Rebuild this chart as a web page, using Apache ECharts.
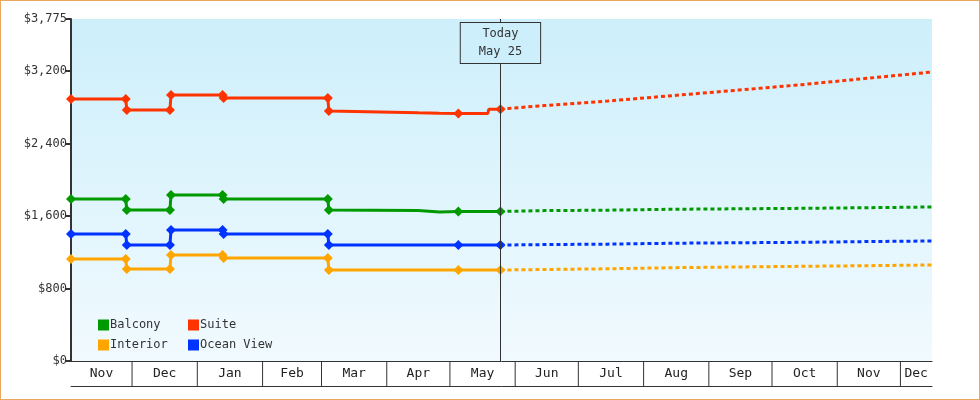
<!DOCTYPE html>
<html>
<head>
<meta charset="utf-8">
<script src="https://cdn.jsdelivr.net/npm/echarts@6/dist/echarts.min.js"></script>
<style>
html, body { margin: 0; padding: 0; background: #fff; }
#chart { width: 978px; height: 398px; border: 1px solid #e8a860; }
</style>
</head>
<body>
<div id="chart"></div>
<script>
// price history (pairs at a date = before / after a change)
var histDates = ['2024-11-02', '2024-11-28', '2024-11-28 12:00', '2024-12-19', '2024-12-19 12:00',
    '2025-01-13', '2025-01-13 12:00', '2025-03-04', '2025-03-04 12:00', '2025-04-16', '2025-04-26',
    '2025-05-05', '2025-05-19', '2025-05-19 12:00', '2025-05-25'];
var suiteHist = [2892, 2892, 2770, 2770, 2936, 2936, 2903, 2903, 2760, 2740, 2736, 2733, 2733, 2780, 2780];
var balconyHist = [1788, 1788, 1667, 1667, 1832, 1832, 1788, 1788, 1667, 1660, 1645, 1650, 1650, 1650, 1650];
var oceanHist = [1402, 1402, 1280, 1280, 1446, 1446, 1402, 1402, 1280, 1280, 1280, 1280, 1280, 1280, 1280];
var interiorHist = [1126, 1126, 1015, 1015, 1170, 1170, 1137, 1137, 1004, 1004, 1004, 1004, 1004, 1004, 1004];
var histSymbols = [1, 1, 1, 1, 1, 1, 1, 1, 1, 0, 0, 1, 0, 0, 1];

// projections from today on
var projDates = ['2025-05-25', '2025-06-15', '2025-07-15', '2025-08-15', '2025-09-15', '2025-10-15', '2025-11-15', '2025-12-16'];
var suiteProj = [2780, 2820, 2870, 2930, 2990, 3050, 3120, 3190];
var balconyProj = [1650, 1660, 1665, 1675, 1680, 1685, 1692, 1700];
var oceanProj = [1280, 1285, 1290, 1300, 1305, 1310, 1318, 1325];
var interiorProj = [1004, 1010, 1018, 1030, 1038, 1045, 1052, 1060];

var months = [
    ['2024-11-02', '2024-12-01', 'Nov'], ['2024-12-01', '2025-01-01', 'Dec'], ['2025-01-01', '2025-02-01', 'Jan'],
    ['2025-02-01', '2025-03-01', 'Feb'], ['2025-03-01', '2025-04-01', 'Mar'], ['2025-04-01', '2025-05-01', 'Apr'],
    ['2025-05-01', '2025-06-01', 'May'], ['2025-06-01', '2025-07-01', 'Jun'], ['2025-07-01', '2025-08-01', 'Jul'],
    ['2025-08-01', '2025-09-01', 'Aug'], ['2025-09-01', '2025-10-01', 'Sep'], ['2025-10-01', '2025-11-01', 'Oct'],
    ['2025-11-01', '2025-12-01', 'Nov'], ['2025-12-01', '2025-12-16', 'Dec']
];
var today = '2025-05-25';
var xMin = '2024-11-02', xMax = '2025-12-16';

var FONT = 'DejaVu Sans Mono';
var colors = {Balcony: '#009900', Suite: '#ff3300', Interior: '#ffa500', 'Ocean View': '#0033ff'};

function pairs(dates, vals, sym) {
    return dates.map(function (d, i) {
        var p = {value: [d, vals[i]]};
        if (sym && !sym[i]) p.symbol = 'none';
        return p;
    });
}

function hist(name, vals) {
    return {
        name: name, type: 'line', data: pairs(histDates, vals, histSymbols),
        symbol: 'diamond', symbolSize: 10, color: colors[name],
        lineStyle: {width: 3}, z: 3
    };
}
function proj(name, vals) {
    return {
        name: name + ' proj', type: 'line', data: pairs(projDates, vals),
        showSymbol: false, color: colors[name],
        lineStyle: {width: 3, type: [4, 3]}
    };
}

var series = [
    hist('Balcony', balconyHist), hist('Suite', suiteHist),
    hist('Interior', interiorHist), hist('Ocean View', oceanHist),
    proj('Balcony', balconyProj), proj('Suite', suiteProj),
    proj('Interior', interiorProj), proj('Ocean View', oceanProj)
];
series[1].markLine = {
    symbol: 'none', silent: true, animation: false,
    lineStyle: {color: '#333', width: 1, type: 'solid'},
    label: {
        position: 'end', distance: -44, formatter: 'Today\nMay 25',
        fontFamily: FONT, fontSize: 12, color: '#333', lineHeight: 18,
        backgroundColor: '#cdeffb', borderColor: '#333', borderWidth: 1, padding: [2, 18]
    },
    data: [{xAxis: today}]
};
series.push({
    type: 'custom', xAxisIndex: 1, yAxisIndex: 1, silent: true, clip: true,
    data: months.map(function (m) { return [m[0], m[1], m[2]]; }),
    encode: {x: [0, 1]},
    renderItem: function (params, api) {
        var s = api.coord([api.value(0), 0]);
        var e = api.coord([api.value(1), 0]);
        var top = params.coordSys.y, h = params.coordSys.height;
        var children = [{
            type: 'text',
            style: {text: months[params.dataIndex][2], x: (s[0] + e[0]) / 2, y: top + h / 2,
                align: 'center', verticalAlign: 'middle', font: '13px "' + FONT + '"', fill: '#222'}
        }];
        if (params.dataIndex > 0) {
            children.push({type: 'line', shape: {x1: s[0], y1: top, x2: s[0], y2: top + h},
                style: {stroke: '#333', lineWidth: 1}});
        }
        return {type: 'group', children: children};
    }
});

var chart = echarts.init(document.getElementById('chart'));
chart.setOption({
    animation: false,
    textStyle: {fontFamily: FONT},
    grid: [
        {left: 70, right: 47, top: 18, bottom: 38, backgroundColor: {
            type: 'linear', x: 0, y: 0, x2: 0, y2: 1,
            colorStops: [{offset: 0, color: '#cdeffb'}, {offset: 1, color: '#f1fafe'}]}, show: true, borderWidth: 0},
        {left: 70, right: 47, top: 360, height: 25}
    ],
    legend: [
        {data: ['Balcony', 'Interior'], orient: 'vertical', left: 92, top: 313, itemGap: 8,
            icon: 'rect', itemWidth: 11, itemHeight: 11,
            textStyle: {fontFamily: FONT, fontSize: 12, color: '#333', padding: [0, 0, 0, -4]}},
        {data: ['Suite', 'Ocean View'], orient: 'vertical', left: 182, top: 313, itemGap: 8,
            icon: 'rect', itemWidth: 11, itemHeight: 11,
            textStyle: {fontFamily: FONT, fontSize: 12, color: '#333', padding: [0, 0, 0, -4]}}
    ],
    xAxis: [
        {type: 'time', min: xMin, max: xMax, gridIndex: 0,
            axisLine: {lineStyle: {color: '#333', width: 1}}, axisTick: {show: false},
            axisLabel: {show: false}, splitLine: {show: false}},
        {type: 'time', min: xMin, max: xMax, gridIndex: 1, position: 'bottom',
            axisLine: {lineStyle: {color: '#333', width: 1}}, axisTick: {show: false},
            axisLabel: {show: false}, splitLine: {show: false}}
    ],
    yAxis: [
        {type: 'value', min: 0, max: 3775, interval: 800, gridIndex: 0,
            axisLine: {show: true, lineStyle: {color: '#333', width: 2}},
            axisTick: {show: true, length: 5, lineStyle: {color: '#333', width: 2}},
            splitLine: {show: false},
            axisLabel: {fontFamily: FONT, fontSize: 12, color: '#333', margin: 4,
                formatter: function (v) { return '$' + v.toLocaleString('en-US'); }}},
        {type: 'value', gridIndex: 1, show: false}
    ],
    series: series
});
</script>
</body>
</html>
